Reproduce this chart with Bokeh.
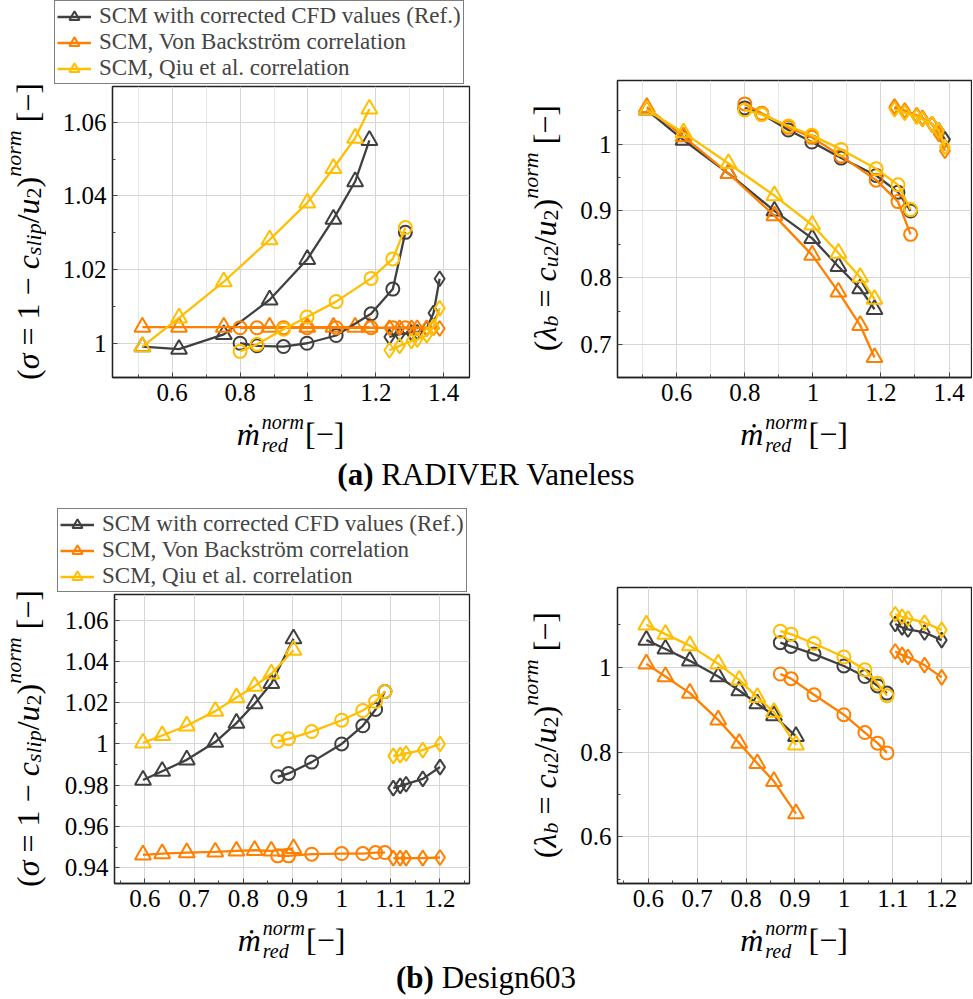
from bokeh.plotting import figure
from bokeh.models import Range1d, FixedTicker, NumeralTickFormatter, Legend, LegendItem, Div
from bokeh.layouts import column, row
from bokeh.embed import file_html
from bokeh.resources import INLINE

# ---------------- data ----------------
series_names = ["SCM with corrected CFD values (Ref.)",
                "SCM, Von Backström correlation",
                "SCM, Qiu et al. correlation"]

# (a) RADIVER Vaneless
a_tri_x = [0.512, 0.620, 0.752, 0.887, 0.998, 1.075, 1.139, 1.181]
a_cir_x = [0.800, 0.850, 0.928, 0.997, 1.083, 1.186, 1.250, 1.287]
a_dia_x = [1.240, 1.270, 1.305, 1.322, 1.350, 1.370, 1.388]

a_sigma_tri_ref = [0.9991, 0.9984, 1.0024, 1.0118, 1.0228, 1.0337, 1.0439, 1.0551]
a_sigma_tri_vb = [1.0044, 1.0044, 1.0044, 1.0044, 1.0044, 1.0044, 1.0044, 1.0044]
a_sigma_tri_qiu = [0.9991, 1.0069, 1.0167, 1.0281, 1.0381, 1.0475, 1.0557, 1.0636]
a_sigma_cir_ref = [1.0000, 0.9993, 0.9991, 1.0000, 1.0021, 1.0080, 1.0147, 1.0301]
a_sigma_cir_vb = [1.0042, 1.0042, 1.0042, 1.0042, 1.0042, 1.0042, 1.0042, 1.0042]
a_sigma_cir_qiu = [0.9978, 0.9997, 1.0038, 1.0071, 1.0113, 1.0176, 1.0229, 1.0314]
a_sigma_dia_ref = [1.0017, 1.0025, 1.0028, 1.0030, 1.0040, 1.0082, 1.0175]
a_sigma_dia_vb = [1.0042, 1.0042, 1.0042, 1.0042, 1.0042, 1.0042, 1.0040]
a_sigma_dia_qiu = [0.9981, 0.9993, 1.0006, 1.0010, 1.0022, 1.0045, 1.0095]

a_lam_tri_ref = [1.051, 1.006, 0.956, 0.900, 0.859, 0.817, 0.784, 0.753]
a_lam_tri_vb = [1.055, 1.011, 0.956, 0.893, 0.834, 0.779, 0.729, 0.681]
a_lam_tri_qiu = [1.051, 1.017, 0.971, 0.923, 0.879, 0.837, 0.801, 0.768]
a_lam_cir_ref = [1.054, 1.045, 1.021, 1.003, 0.979, 0.953, 0.928, 0.900]
a_lam_cir_vb = [1.060, 1.046, 1.025, 1.010, 0.982, 0.946, 0.914, 0.865]
a_lam_cir_qiu = [1.051, 1.044, 1.027, 1.013, 0.992, 0.963, 0.939, 0.902]
a_lam_dia_ref = [1.054, 1.048, 1.042, 1.038, 1.030, 1.020, 1.007]
a_lam_dia_vb = [1.056, 1.050, 1.043, 1.039, 1.029, 1.015, 0.990]
a_lam_dia_qiu = [1.052, 1.047, 1.041, 1.037, 1.030, 1.020, 0.996]

# (b) Design603
b_tri_x = [0.596, 0.635, 0.685, 0.743, 0.786, 0.823, 0.857, 0.902]
b_cir_x = [0.870, 0.892, 0.939, 1.000, 1.043, 1.069, 1.088]
b_dia_x = [1.105, 1.119, 1.131, 1.165, 1.200]

b_sigma_tri_ref = [0.9825, 0.9868, 0.9923, 1.0009, 1.0101, 1.0195, 1.0293, 1.0510]
b_sigma_tri_vb = [0.9463, 0.9469, 0.9474, 0.9477, 0.9482, 0.9485, 0.9482, 0.9494]
b_sigma_tri_qiu = [1.0005, 1.0041, 1.0088, 1.0159, 1.0225, 1.0280, 1.0340, 1.0454]
b_sigma_cir_ref = [0.9841, 0.9857, 0.9912, 1.0000, 1.0088, 1.0167, 1.0254]
b_sigma_cir_vb = [0.9458, 0.9458, 0.9466, 0.9469, 0.9469, 0.9474, 0.9474]
b_sigma_cir_qiu = [1.0013, 1.0025, 1.0060, 1.0115, 1.0162, 1.0206, 1.0254]
b_sigma_dia_ref = [0.9786, 0.9797, 0.9805, 0.9831, 0.9888]
b_sigma_dia_vb = [0.9447, 0.9447, 0.9447, 0.9447, 0.9450]
b_sigma_dia_qiu = [0.9942, 0.9946, 0.9954, 0.9970, 1.0000]

b_lam_tri_ref = [1.064, 1.043, 1.015, 0.978, 0.945, 0.914, 0.886, 0.837]
b_lam_tri_vb = [1.008, 0.978, 0.939, 0.876, 0.821, 0.773, 0.731, 0.655]
b_lam_tri_qiu = [1.100, 1.078, 1.051, 1.008, 0.970, 0.929, 0.894, 0.817]
b_lam_cir_ref = [1.058, 1.049, 1.031, 1.003, 0.978, 0.956, 0.939]
b_lam_cir_vb = [0.984, 0.973, 0.935, 0.888, 0.846, 0.821, 0.798]
b_lam_cir_qiu = [1.085, 1.078, 1.056, 1.024, 0.994, 0.962, 0.933]
b_lam_dia_ref = [1.102, 1.094, 1.089, 1.082, 1.064]
b_lam_dia_vb = [1.037, 1.029, 1.024, 1.005, 0.976]
b_lam_dia_qiu = [1.125, 1.119, 1.115, 1.105, 1.088]

# ticks
a_x_ticks = [0.6, 0.8, 1.0, 1.2, 1.4]
a_x_minor = [0.5, 0.7, 0.9, 1.1, 1.3]
a_sigma_ticks = [1.0, 1.02, 1.04, 1.06]
a_sigma_minor = [1.01, 1.03, 1.05]
a_lam_ticks = [0.7, 0.8, 0.9, 1.0]
a_lam_minor = [0.65, 0.75, 0.85, 0.95, 1.05]
b_x_ticks = [0.6, 0.7, 0.8, 0.9, 1.0, 1.1, 1.2]
b_x_minor = [0.55, 0.65, 0.75, 0.85, 0.95, 1.05, 1.15, 1.25]
b_sigma_ticks = [0.94, 0.96, 0.98, 1.0, 1.02, 1.04, 1.06]
b_sigma_minor = [0.95, 0.97, 0.99, 1.01, 1.03, 1.05, 1.07]
b_lam_ticks = [0.6, 0.8, 1.0]
b_lam_minor = [0.5, 0.7, 0.9, 1.1]

# ---------------- style ----------------
COLORS = ["#404040", "#FF8000", "#FFBF00"]
FONT = "Liberation Serif"
CSSFONT = "font-family:Liberation Serif,serif;color:black;"
TICK_FS = "25px"
LINE_W = 2.3
MARK_W = 2.0


def make_panel(width, height, xr, yr, mbl, mbr, mbt, mbb, xt, xm, yt, ym, xminor_grid):
    p = figure(width=width, height=height, x_range=Range1d(*xr), y_range=Range1d(*yr),
               output_backend="svg", toolbar_location=None, title=None, frame_align=False,
               min_border_left=mbl, min_border_right=mbr, min_border_top=mbt, min_border_bottom=mbb)
    p.background_fill_color = "white"
    p.border_fill_color = "white"
    p.outline_line_color = "#222222"
    p.outline_line_width = 1.3
    p.xaxis.ticker = FixedTicker(ticks=xt, minor_ticks=xm)
    p.yaxis.ticker = FixedTicker(ticks=yt, minor_ticks=ym)
    for ax in (p.xaxis[0], p.yaxis[0]):
        ax.formatter = NumeralTickFormatter(format="0.[00]")
        ax.major_label_text_font = FONT
        ax.major_label_text_font_size = TICK_FS
        ax.major_label_text_color = "black"
        ax.axis_line_color = "#222222"
        ax.axis_line_width = 1.3
        ax.major_tick_in = 5
        ax.major_tick_out = 0
        ax.minor_tick_in = 3
        ax.minor_tick_out = 0
        ax.major_tick_line_color = "#444444"
        ax.minor_tick_line_color = "#444444"
        ax.major_label_standoff = 6
    p.xgrid.grid_line_color = "#d6d6d6"
    p.ygrid.grid_line_color = "#d6d6d6"
    if xminor_grid:
        p.xgrid.minor_grid_line_color = "#e6e6e6"
    return p


def draw(p, xs, ys_list, marker, size):
    for ys, col in zip(ys_list, COLORS):
        p.line(xs, ys, line_color=col, line_width=LINE_W)
        p.scatter(xs, ys, marker=marker, size=size, line_color=col, line_width=MARK_W, fill_color=None)


def legend_fig(width, height, vx, vy, xs, ys_list):
    p = figure(width=width, height=height, x_range=Range1d(0, 1), y_range=Range1d(0, 1),
               x_axis_type=None, y_axis_type=None, output_backend="svg", toolbar_location=None,
               title=None, frame_align=False,
               min_border_left=0, min_border_right=0, min_border_top=0, min_border_bottom=0)
    p.outline_line_color = None
    p.border_fill_color = "white"
    p.background_fill_color = "white"
    items = []
    for name, col, ys in zip(series_names, COLORS, ys_list):
        l = p.line(xs, ys, line_color=col, line_width=LINE_W, visible=False)
        s = p.scatter(xs, ys, marker="triangle", size=16, line_color=col, line_width=MARK_W,
                      fill_color=None, visible=False)
        items.append(LegendItem(label=name, renderers=[l, s]))
    leg = Legend(items=items, location=(vx, vy), label_text_font=FONT, label_text_font_size="23px",
                 glyph_width=34, glyph_height=25, label_standoff=8, padding=2, spacing=0,
                 border_line_color="black", border_line_width=1.2, background_fill_color="white",
                 background_fill_alpha=1.0, margin=0, label_height=25)
    p.add_layout(leg)
    return p


SUB = "font-size:22px;line-height:0;vertical-align:-6px;"
SUP = "font-size:22px;line-height:0;vertical-align:14px;"
sigma_html = (f"(<i>σ</i> = 1 − <i>c</i><span style='{SUB}'><i>slip</i></span>/<i>u</i>"
              f"<span style='{SUB}'>2</span>)<span style='{SUP}'><i>norm</i></span> [−]")
lam_html = (f"(<i>λ</i><span style='{SUB}'><i>b</i></span> = <i>c</i><span style='{SUB}'><i>u</i>2</span>"
            f"/<i>u</i><span style='{SUB}'>2</span>)<span style='{SUP}'><i>norm</i></span> [−]")
x_html = ("<i>ṁ</i><span style='display:inline-block;vertical-align:-7px;font-size:20px;line-height:23px;"
          "text-align:left;margin-left:2px;margin-right:1px'><i>norm</i><br><i>red</i></span>[−]")


def ylab_div(html, width, height, center_from_top, pad_right):
    pad = int(round(2 * center_from_top - height))
    pt = max(pad, 0)
    pb = max(-pad, 0)
    inner = (f"<div style='width:{width}px;height:{height}px;display:flex;align-items:center;"
             f"justify-content:flex-end;padding:{pt}px {pad_right}px {pb}px 0;box-sizing:border-box;'>"
             f"<div style='writing-mode:vertical-rl;transform:rotate(180deg);white-space:nowrap;"
             f"{CSSFONT}font-size:32px;line-height:36px;'>{html}</div></div>")
    return Div(text=inner, width=width, height=height, margin=(0, 0, 0, 0))


def xlab_div(html, width, height, mbl, mbr):
    inner = (f"<div style='width:{width}px;height:{height}px;padding:0 {mbr}px 0 {mbl}px;box-sizing:border-box;"
             f"text-align:center;white-space:nowrap;{CSSFONT}font-size:32px;line-height:32px;'>{html}</div>")
    return Div(text=inner, width=width, height=height, margin=(0, 0, 0, 0))


YLW = 52
LW, RW = 434, 398
YRW = 88
MBL_A1, MBL_B1, MBL_R = 60, 62, 43
MBB = 34
XH = 41

# ---------------- row (a) ----------------
LEG_A = 85
HA1 = 326           # left figure (below legend)
HA2 = 411           # right figure
MBT_A2 = 80
pa1 = make_panel(LW, HA1, (0.424, 1.476), (0.9907, 1.0697), MBL_A1, 17, 1, MBB,
                 a_x_ticks, a_x_minor, a_sigma_ticks, a_sigma_minor, True)
draw(pa1, a_tri_x, [a_sigma_tri_ref, a_sigma_tri_vb, a_sigma_tri_qiu], "triangle", 16)
draw(pa1, a_cir_x, [a_sigma_cir_ref, a_sigma_cir_vb, a_sigma_cir_qiu], "circle", 13)
draw(pa1, a_dia_x, [a_sigma_dia_ref, a_sigma_dia_vb, a_sigma_dia_qiu], "diamond", 15)

pa2 = make_panel(RW, HA2, (0.426, 1.466), (0.651, 1.095), MBL_R, 1, MBT_A2, MBB,
                 a_x_ticks, a_x_minor, a_lam_ticks, a_lam_minor, True)
draw(pa2, a_tri_x, [a_lam_tri_ref, a_lam_tri_vb, a_lam_tri_qiu], "triangle", 16)
draw(pa2, a_cir_x, [a_lam_cir_ref, a_lam_cir_vb, a_lam_cir_qiu], "circle", 13)
draw(pa2, a_dia_x, [a_lam_dia_ref, a_lam_dia_vb, a_lam_dia_qiu], "diamond", 15)

TA = LEG_A + HA1 + XH
legA = legend_fig(LW, LEG_A, 2, 1, a_tri_x, [a_sigma_tri_ref, a_sigma_tri_vb, a_sigma_tri_qiu])
rowA = row(ylab_div(sigma_html, YLW, TA, LEG_A + 1 + (HA1 - 1 - MBB) / 2, 6),
           column(legA, pa1, xlab_div(x_html, LW, XH, MBL_A1, 17)),
           ylab_div(lam_html, YRW, TA, MBT_A2 + (HA2 - MBT_A2 - MBB) / 2, 11),
           column(pa2, xlab_div(x_html, RW, XH, MBL_R, 1)))

cap_a = Div(text=f"<div style=\"{CSSFONT}font-size:31px;text-align:center;width:972px;line-height:46px;\">"
                 f"<b>(a)</b> RADIVER Vaneless</div>",
            width=972, height=46, margin=(0, 0, 0, 0))

# ---------------- row (b) ----------------
LEG_B = 95
HB1 = 324
HB2 = 419
MBT_B2 = 89
pb1 = make_panel(LW, HB1, (0.538, 1.260), (0.9324, 1.0724), MBL_B1, 17, 1, MBB,
                 b_x_ticks, b_x_minor, b_sigma_ticks, b_sigma_minor, False)
draw(pb1, b_tri_x, [b_sigma_tri_ref, b_sigma_tri_vb, b_sigma_tri_qiu], "triangle", 16)
draw(pb1, b_cir_x, [b_sigma_cir_ref, b_sigma_cir_vb, b_sigma_cir_qiu], "circle", 13)
draw(pb1, b_dia_x, [b_sigma_dia_ref, b_sigma_dia_vb, b_sigma_dia_qiu], "diamond", 15)

pb2 = make_panel(RW, HB2, (0.537, 1.261), (0.490, 1.188), MBL_R, 1, MBT_B2, MBB,
                 b_x_ticks, b_x_minor, b_lam_ticks, b_lam_minor, False)
draw(pb2, b_tri_x, [b_lam_tri_ref, b_lam_tri_vb, b_lam_tri_qiu], "triangle", 16)
draw(pb2, b_cir_x, [b_lam_cir_ref, b_lam_cir_vb, b_lam_cir_qiu], "circle", 13)
draw(pb2, b_dia_x, [b_lam_dia_ref, b_lam_dia_vb, b_lam_dia_qiu], "diamond", 15)

TB = LEG_B + HB1 + XH
legB = legend_fig(LW, LEG_B, 5, 1, b_tri_x, [b_sigma_tri_ref, b_sigma_tri_vb, b_sigma_tri_qiu])
rowB = row(ylab_div(sigma_html, YLW, TB, LEG_B + 1 + (HB1 - 1 - MBB) / 2, 6),
           column(legB, pb1, xlab_div(x_html, LW, XH, MBL_B1, 17)),
           ylab_div(lam_html, YRW, TB, MBT_B2 + (HB2 - MBT_B2 - MBB) / 2, 11),
           column(pb2, xlab_div(x_html, RW, XH, MBL_R, 1)))

cap_b = Div(text=f"<div style=\"{CSSFONT}font-size:31px;text-align:center;width:972px;line-height:39px;\">"
                 f"<b>(b)</b> Design603</div>",
            width=972, height=39, margin=(0, 0, 0, 0))

layout = column(rowA, cap_a, rowB, cap_b)
open("out.html", "w").write(file_html(layout, INLINE))
